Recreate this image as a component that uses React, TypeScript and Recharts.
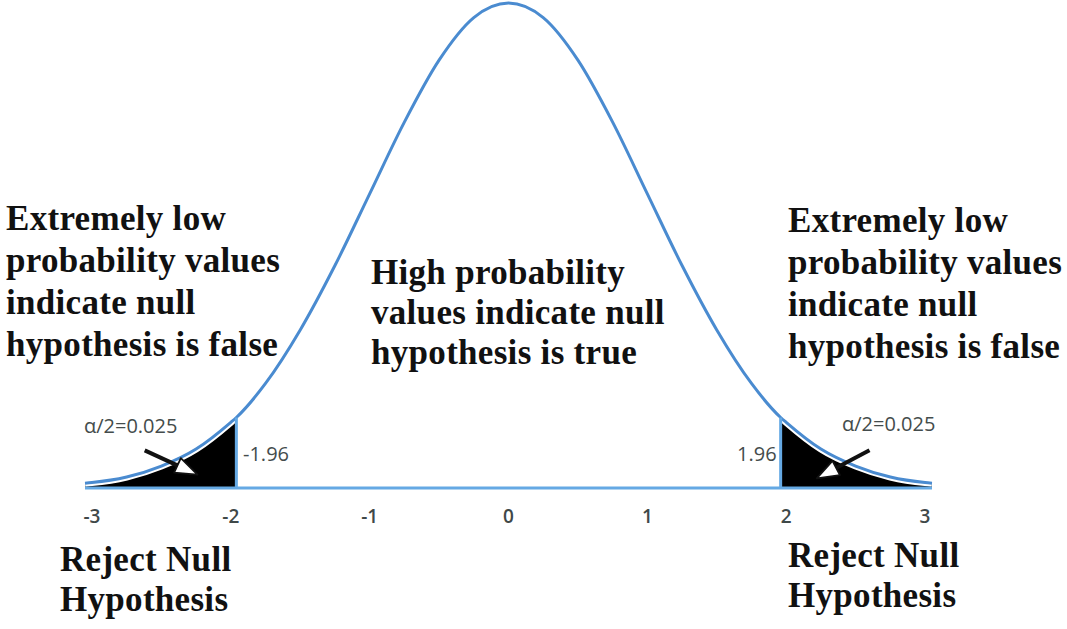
import { ComposedChart, Line, Area, XAxis, YAxis, ReferenceLine } from 'recharts';

// z values and the density
const zValues = [-3.05, -3, -2.75, -2.5, -2.25, -2, -1.96, -1.75, -1.5, -1.25, -1, -0.75, -0.5, -0.25, 0,
  0.25, 0.5, 0.75, 1, 1.25, 1.5, 1.75, 1.96, 2, 2.25, 2.5, 2.75, 3, 3.05];
const density = [0.004, 0.0045, 0.009, 0.018, 0.032, 0.054, 0.058, 0.086, 0.13, 0.183, 0.242, 0.301, 0.352, 0.387, 0.399,
  0.387, 0.352, 0.301, 0.242, 0.183, 0.13, 0.086, 0.058, 0.054, 0.032, 0.018, 0.009, 0.0045, 0.004];
const critical = 1.96;
const axisTicks = [-3, -2, -1, 0, 1, 2, 3];

const data = zValues.map((z, i) => ({
  z,
  pdf: density[i],
  leftTail: z <= -critical ? density[i] : null,
  rightTail: z >= critical ? density[i] : null,
}));
const critY = density[zValues.indexOf(critical)];

const CURVE = '#4a8bd0';
const AXIS = '#65a9e4';
const serif = '"Liberation Serif", "Times New Roman", serif';
const sans = '"Open Sans", "Liberation Sans", sans-serif';

function Arrow(props: any) {
  const { x1, y1, x2, y2 } = props;
  const dx = x2 - x1;
  const dy = y2 - y1;
  const len = Math.sqrt(dx * dx + dy * dy);
  const ux = dx / len;
  const uy = dy / len;
  const headLen = 22;
  const bx = x2 - ux * headLen;
  const by = y2 - uy * headLen;
  const px = -uy * 8;
  const py = ux * 8;
  return (
    <g>
      <line x1={x1} y1={y1} x2={bx + ux * 4} y2={by + uy * 4} stroke="#111" strokeWidth={4} />
      <polygon
        points={`${x2},${y2} ${bx + px},${by + py} ${bx - px},${by - py}`}
        fill="#fff"
        stroke="#111"
        strokeWidth={1.8}
        strokeLinejoin="round"
      />
    </g>
  );
}

const bigText: React.CSSProperties = {
  position: 'absolute',
  fontFamily: serif,
  fontWeight: 'bold',
  fontSize: 35,
  letterSpacing: 0.3,
  lineHeight: '42px',
  color: '#111',
  whiteSpace: 'nowrap',
};
const smallText: React.CSSProperties = {
  position: 'absolute',
  fontFamily: sans,
  fontSize: 20,
  lineHeight: '22px',
  color: '#444c4c',
  whiteSpace: 'nowrap',
};

export default function App() {
  return (
    <div style={{ position: 'absolute', left: 0, top: 0, width: 1067, height: 629, background: '#fff' }}>
      <ComposedChart width={1067} height={629} data={data} margin={{ top: 3, right: 135, bottom: 101, left: 85 }}>
        <XAxis
          dataKey="z"
          type="number"
          domain={[-3.05, 3.05]}
          ticks={axisTicks}
          height={40}
          axisLine={{ stroke: AXIS, strokeWidth: 3 }}
          tickLine={false}
          tickMargin={16}
          tick={{ fill: '#3f4848', fontSize: 19, fontFamily: sans, fontWeight: 600 }}
        />
        <YAxis hide domain={[0, 0.399]} />
        <Area dataKey="leftTail" type="monotone" fill="#000" fillOpacity={1} stroke="#fff" strokeWidth={7} isAnimationActive={false} />
        <Area dataKey="rightTail" type="monotone" fill="#000" fillOpacity={1} stroke="#fff" strokeWidth={7} isAnimationActive={false} />
        <Line dataKey="pdf" type="monotone" stroke={CURVE} strokeWidth={3} dot={false} isAnimationActive={false} />
        <ReferenceLine segment={[{ x: -critical, y: 0 }, { x: -critical, y: critY }]} stroke={AXIS} strokeWidth={3} />
        <ReferenceLine segment={[{ x: critical, y: 0 }, { x: critical, y: critY }]} stroke={AXIS} strokeWidth={3} />
        <ReferenceLine segment={[{ x: -2.62, y: 0.031 }, { x: -2.24, y: 0.011 }]} shape={Arrow} />
        <ReferenceLine segment={[{ x: 2.6, y: 0.031 }, { x: 2.22, y: 0.008 }]} shape={Arrow} />
      </ComposedChart>

      <div style={{ ...bigText, left: 6, top: 198 }}>
        Extremely low<br />probability values<br />indicate null<br />hypothesis is false
      </div>
      <div style={{ ...bigText, left: 371, top: 253, lineHeight: '40px' }}>
        High probability<br />values indicate null<br />hypothesis is true
      </div>
      <div style={{ ...bigText, left: 788, top: 200 }}>
        Extremely low<br />probability values<br />indicate null<br />hypothesis is false
      </div>
      <div style={{ ...bigText, left: 60, top: 540, lineHeight: '40px' }}>
        Reject Null<br />Hypothesis
      </div>
      <div style={{ ...bigText, left: 788, top: 536, lineHeight: '40px' }}>
        Reject Null<br />Hypothesis
      </div>

      <div style={{ ...smallText, left: 84, top: 415 }}>α/2=0.025</div>
      <div style={{ ...smallText, left: 243, top: 443 }}>-1.96</div>
      <div style={{ ...smallText, left: 737, top: 443 }}>1.96</div>
      <div style={{ ...smallText, left: 842, top: 413 }}>α/2=0.025</div>
    </div>
  );
}
